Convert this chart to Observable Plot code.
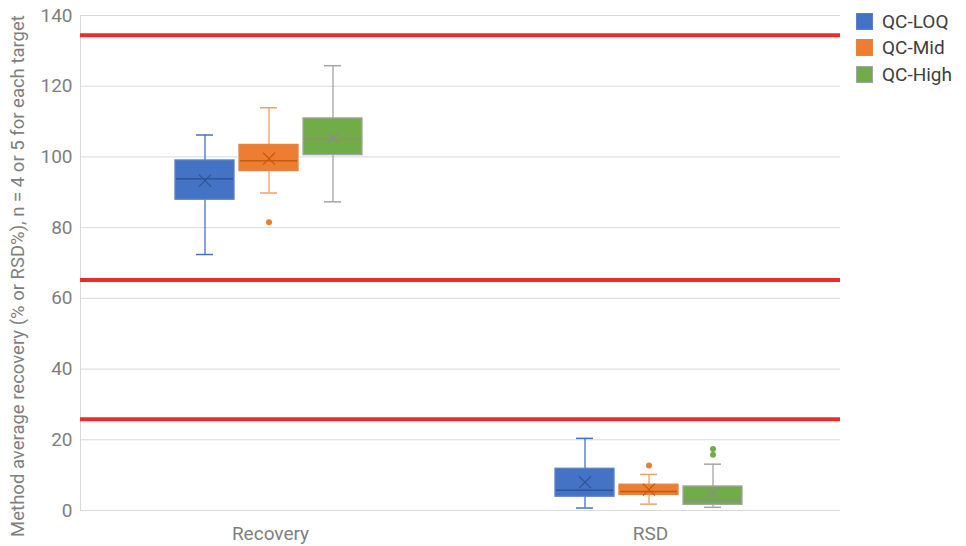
<!DOCTYPE html>
<html>
<head>
<meta charset="utf-8">
<script src="https://cdn.jsdelivr.net/npm/d3@7"></script>
<script src="https://cdn.jsdelivr.net/npm/@observablehq/plot@0.6"></script>
<style>
  html, body { margin: 0; padding: 0; background: #fff; }
  #wrap { position: relative; width: 966px; height: 546px; font-family: Roboto, sans-serif; }
  #legend { position: absolute; left: 856px; top: 8px; font-size: 19px; color: #404040; }
  .item { display: flex; align-items: center; height: 26.5px; }
  .sw { width: 17px; height: 17px; margin-right: 9px; box-sizing: border-box; }
</style>
</head>
<body>
<div id="wrap"><div id="legend"></div></div>
<script>
// Categories and series
const groups = ["Recovery", "RSD"];
const series = ["QC-LOQ", "QC-Mid", "QC-High"];
// Box statistics, one value per (group, series), group-major order
const whiskerLow  = [72.4, 89.8, 87.3, 0.7, 1.8, 0.9];
const q1          = [87.9, 96.0, 100.5, 3.9, 4.4, 1.6];
const median      = [93.8, 98.9, 104.9, 5.7, 5.4, 3.0];
const q3          = [99.0, 103.4, 110.9, 11.8, 7.3, 6.8];
const whiskerHigh = [106.2, 113.9, 125.8, 20.4, 10.2, 13.1];
const mean        = [93.3, 99.5, 105.3, 8.0, 5.9, 4.9];
// Outliers
const outlierGroup  = ["Recovery", "RSD", "RSD", "RSD"];
const outlierSeries = ["QC-Mid", "QC-Mid", "QC-High", "QC-High"];
const outlierValue  = [81.5, 12.7, 17.4, 15.8];
// Reference limit lines
const limits = [134.4, 65.2, 25.8];
// y ticks
const yTicks = [0, 20, 40, 60, 80, 100, 120, 140];

const fills   = ["#4472C4", "#ED7D31", "#70AD47"];
const borders = ["#5B80C8", "#E8823F", "#A5A5A5"];
const whisk   = ["#4472C4", "#F0A06C", "#A5A5A5"];
const mids    = ["#2F5597", "#C55A11", "#8C8C8C"];

const boxes = [];
groups.forEach((g, gi) => series.forEach((s, si) => {
  const i = gi * series.length + si;
  boxes.push({group: g, series: s, lo: whiskerLow[i], q1: q1[i], med: median[i], q3: q3[i], hi: whiskerHigh[i], mean: mean[i]});
}));
const outliers = outlierValue.map((v, i) => ({group: outlierGroup[i], series: outlierSeries[i], value: v}));

const col = (arr) => (d) => arr[series.indexOf(d.series)];

const chart = Plot.plot({
  width: 966,
  height: 546,
  marginTop: 15,
  marginBottom: 36,
  marginLeft: 80,
  marginRight: 126,
  style: {fontFamily: "Roboto, sans-serif", fontSize: "19px", background: "#fff"},
  fx: {domain: groups, padding: 0},
  x: {domain: series, paddingInner: 0.08, paddingOuter: 1.47, align: 0.49, axis: null},
  y: {domain: [0, 140]},
  marks: [
    Plot.ruleY(yTicks, {stroke: "#D9D9D9", strokeWidth: 1}),
    Plot.frame({anchor: "left", stroke: "#D9D9D9", facetAnchor: "left"}),
    Plot.ruleY(limits, {stroke: "#EE2A2A", strokeWidth: 4}),
    // whiskers
    Plot.ruleX(boxes, {fx: "group", x: "series", y1: "lo", y2: "q1", stroke: col(whisk), strokeWidth: 1.3}),
    Plot.ruleX(boxes, {fx: "group", x: "series", y1: "q3", y2: "hi", stroke: col(whisk), strokeWidth: 1.3}),
    Plot.tickY(boxes, {fx: "group", x: "series", y: "lo", stroke: col(whisk), strokeWidth: 1.5, insetLeft: 21, insetRight: 21}),
    Plot.tickY(boxes, {fx: "group", x: "series", y: "hi", stroke: col(whisk), strokeWidth: 1.5, insetLeft: 21, insetRight: 21}),
    // boxes
    Plot.barY(boxes, {fx: "group", x: "series", y1: "q1", y2: "q3", fill: col(fills), stroke: col(borders), strokeWidth: 1.3}),
    Plot.tickY(boxes, {fx: "group", x: "series", y: "med", stroke: col(mids), strokeWidth: 1.5, insetLeft: 1, insetRight: 1}),
    Plot.dot(boxes, {fx: "group", x: "series", y: "mean", symbol: "times", r: 5.5, stroke: col(mids), strokeWidth: 1.2}),
    // outliers
    Plot.dot(outliers, {fx: "group", x: "series", y: "value", r: 3, fill: col(fills), stroke: "none"}),
    Plot.ruleY([0], {stroke: "#D9D9D9", strokeWidth: 1}),
    Plot.axisY(yTicks, {
      tickSize: 0, tickPadding: 8, fontSize: 19, color: "#7F7F7F",
      label: "Method average recovery (% or RSD%), n = 4 or 5 for each target",
      labelAnchor: "center", labelArrow: "none", labelOffset: 70
    }),
    Plot.axisFx({anchor: "bottom", tickSize: 0, tickPadding: 16, fontSize: 19, color: "#7F7F7F", label: null})
  ]
});
document.getElementById("wrap").prepend(chart);

// nudge the y-axis title to match the reference placement
d3.select(chart).selectAll('g[aria-label="y-axis label"]').attr("font-size", 18.5);
d3.select(chart).selectAll('g[aria-label="y-axis label"] text').each(function () {
  const t = this.getAttribute("transform") || "";
  this.setAttribute("transform", "translate(0,13) " + t);
  this.setAttribute("font-size", 18.5);
});

const legend = document.getElementById("legend");
series.forEach((s, i) => {
  const item = document.createElement("div");
  item.className = "item";
  const sw = document.createElement("div");
  sw.className = "sw";
  sw.style.background = fills[i];
  sw.style.border = "1px solid " + borders[i];
  const t = document.createElement("span");
  t.textContent = s;
  item.appendChild(sw);
  item.appendChild(t);
  legend.appendChild(item);
});
</script>
</body>
</html>
